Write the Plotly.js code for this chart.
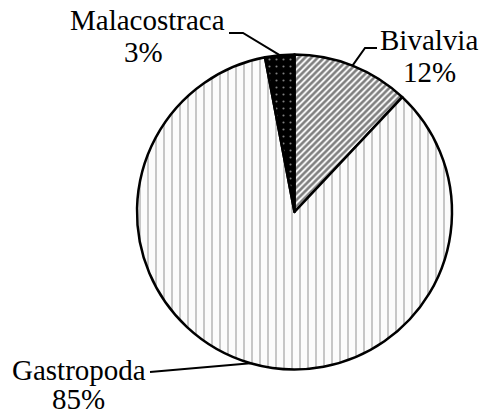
<!DOCTYPE html>
<html>
<head>
<meta charset="utf-8">
<script src="https://cdn.plot.ly/plotly-3.0.1.min.js"></script>
<style>html,body{margin:0;padding:0;background:#fff;}#chart{width:481px;height:417px;}</style>
</head>
<body>
<div id="chart"></div>
<script>
const categories = ['Bivalvia', 'Gastropoda', 'Malacostraca'];
const values = [12, 85, 3];
const percentLabels = ['12%', '85%', '3%'];

const W = 481, H = 417;
const cx = 294.5, cy = 212, R = 157.5;
const px = x => x / W;
const py = y => 1 - y / H;

const patterns = [
  {shape: '/', bgcolor: '#ffffff', fgcolor: '#000000', size: 4.5, solidity: 0.6},
  {shape: '|', bgcolor: '#fcfcfc', fgcolor: '#555555', size: 8, solidity: 0.16},
  {shape: '.', bgcolor: '#000000', fgcolor: '#ffffff', size: 7, solidity: 0.07}
];

const trace = {
  type: 'pie',
  labels: categories,
  values: values,
  sort: false,
  direction: 'clockwise',
  rotation: 0,
  textinfo: 'none',
  hoverinfo: 'label+percent',
  showlegend: false,
  domain: {x: [px(cx - R), px(cx + R)], y: [py(cy + R), py(cy - R)]},
  marker: {
    colors: ['#ffffff', '#ffffff', '#000000'],
    line: {color: '#000000', width: 2.5},
    pattern: {
      shape: patterns.map(p => p.shape),
      bgcolor: patterns.map(p => p.bgcolor),
      fgcolor: patterns.map(p => p.fgcolor),
      size: patterns.map(p => p.size),
      solidity: patterns.map(p => p.solidity),
      fillmode: 'overlay'
    }
  }
};

// slice mid-angles (clockwise from 12 o'clock) computed from values
const total = values.reduce((a, b) => a + b, 0);
let acc = 0;
const midPts = values.map(v => {
  const a = (acc + v / 2) / total * 2 * Math.PI;
  acc += v;
  return [cx + R * Math.sin(a), cy - R * Math.cos(a)];
});

const font = {family: 'Liberation Serif', size: 29, color: '#000'};
const labelPos = [
  {name: [429, 40], pct: [429, 72], elbow: [[365, 48], [377, 48]]},
  {name: [79, 370], pct: [78, 398.5], elbow: [[150, 372]]},
  {name: [147, 19.5], pct: [143, 52], elbow: [[243, 33], [229, 33]]}
];

const annotations = [];
const shapes = [];
categories.forEach((c, i) => {
  const lp = labelPos[i];
  annotations.push({xref: 'paper', yref: 'paper', x: px(lp.name[0]), y: py(lp.name[1]), text: c,
    showarrow: false, xanchor: 'center', yanchor: 'middle', font: font});
  annotations.push({xref: 'paper', yref: 'paper', x: px(lp.pct[0]), y: py(lp.pct[1]), text: percentLabels[i],
    showarrow: false, xanchor: 'center', yanchor: 'middle', font: font});
  const pts = [midPts[i]].concat(lp.elbow);
  let path = 'M ' + px(pts[0][0]) + ' ' + py(pts[0][1]);
  for (let k = 1; k < pts.length; k++) path += ' L ' + px(pts[k][0]) + ' ' + py(pts[k][1]);
  shapes.push({type: 'path', xref: 'paper', yref: 'paper', path: path, line: {color: '#000', width: 2}});
});

const layout = {
  width: W, height: H,
  margin: {l: 0, r: 0, t: 0, b: 0},
  paper_bgcolor: '#ffffff',
  plot_bgcolor: '#ffffff',
  showlegend: false,
  font: {family: 'Liberation Serif'},
  annotations: annotations,
  shapes: shapes
};

Plotly.newPlot('chart', [trace], layout, {displayModeBar: false, staticPlot: true});
</script>
</body>
</html>
